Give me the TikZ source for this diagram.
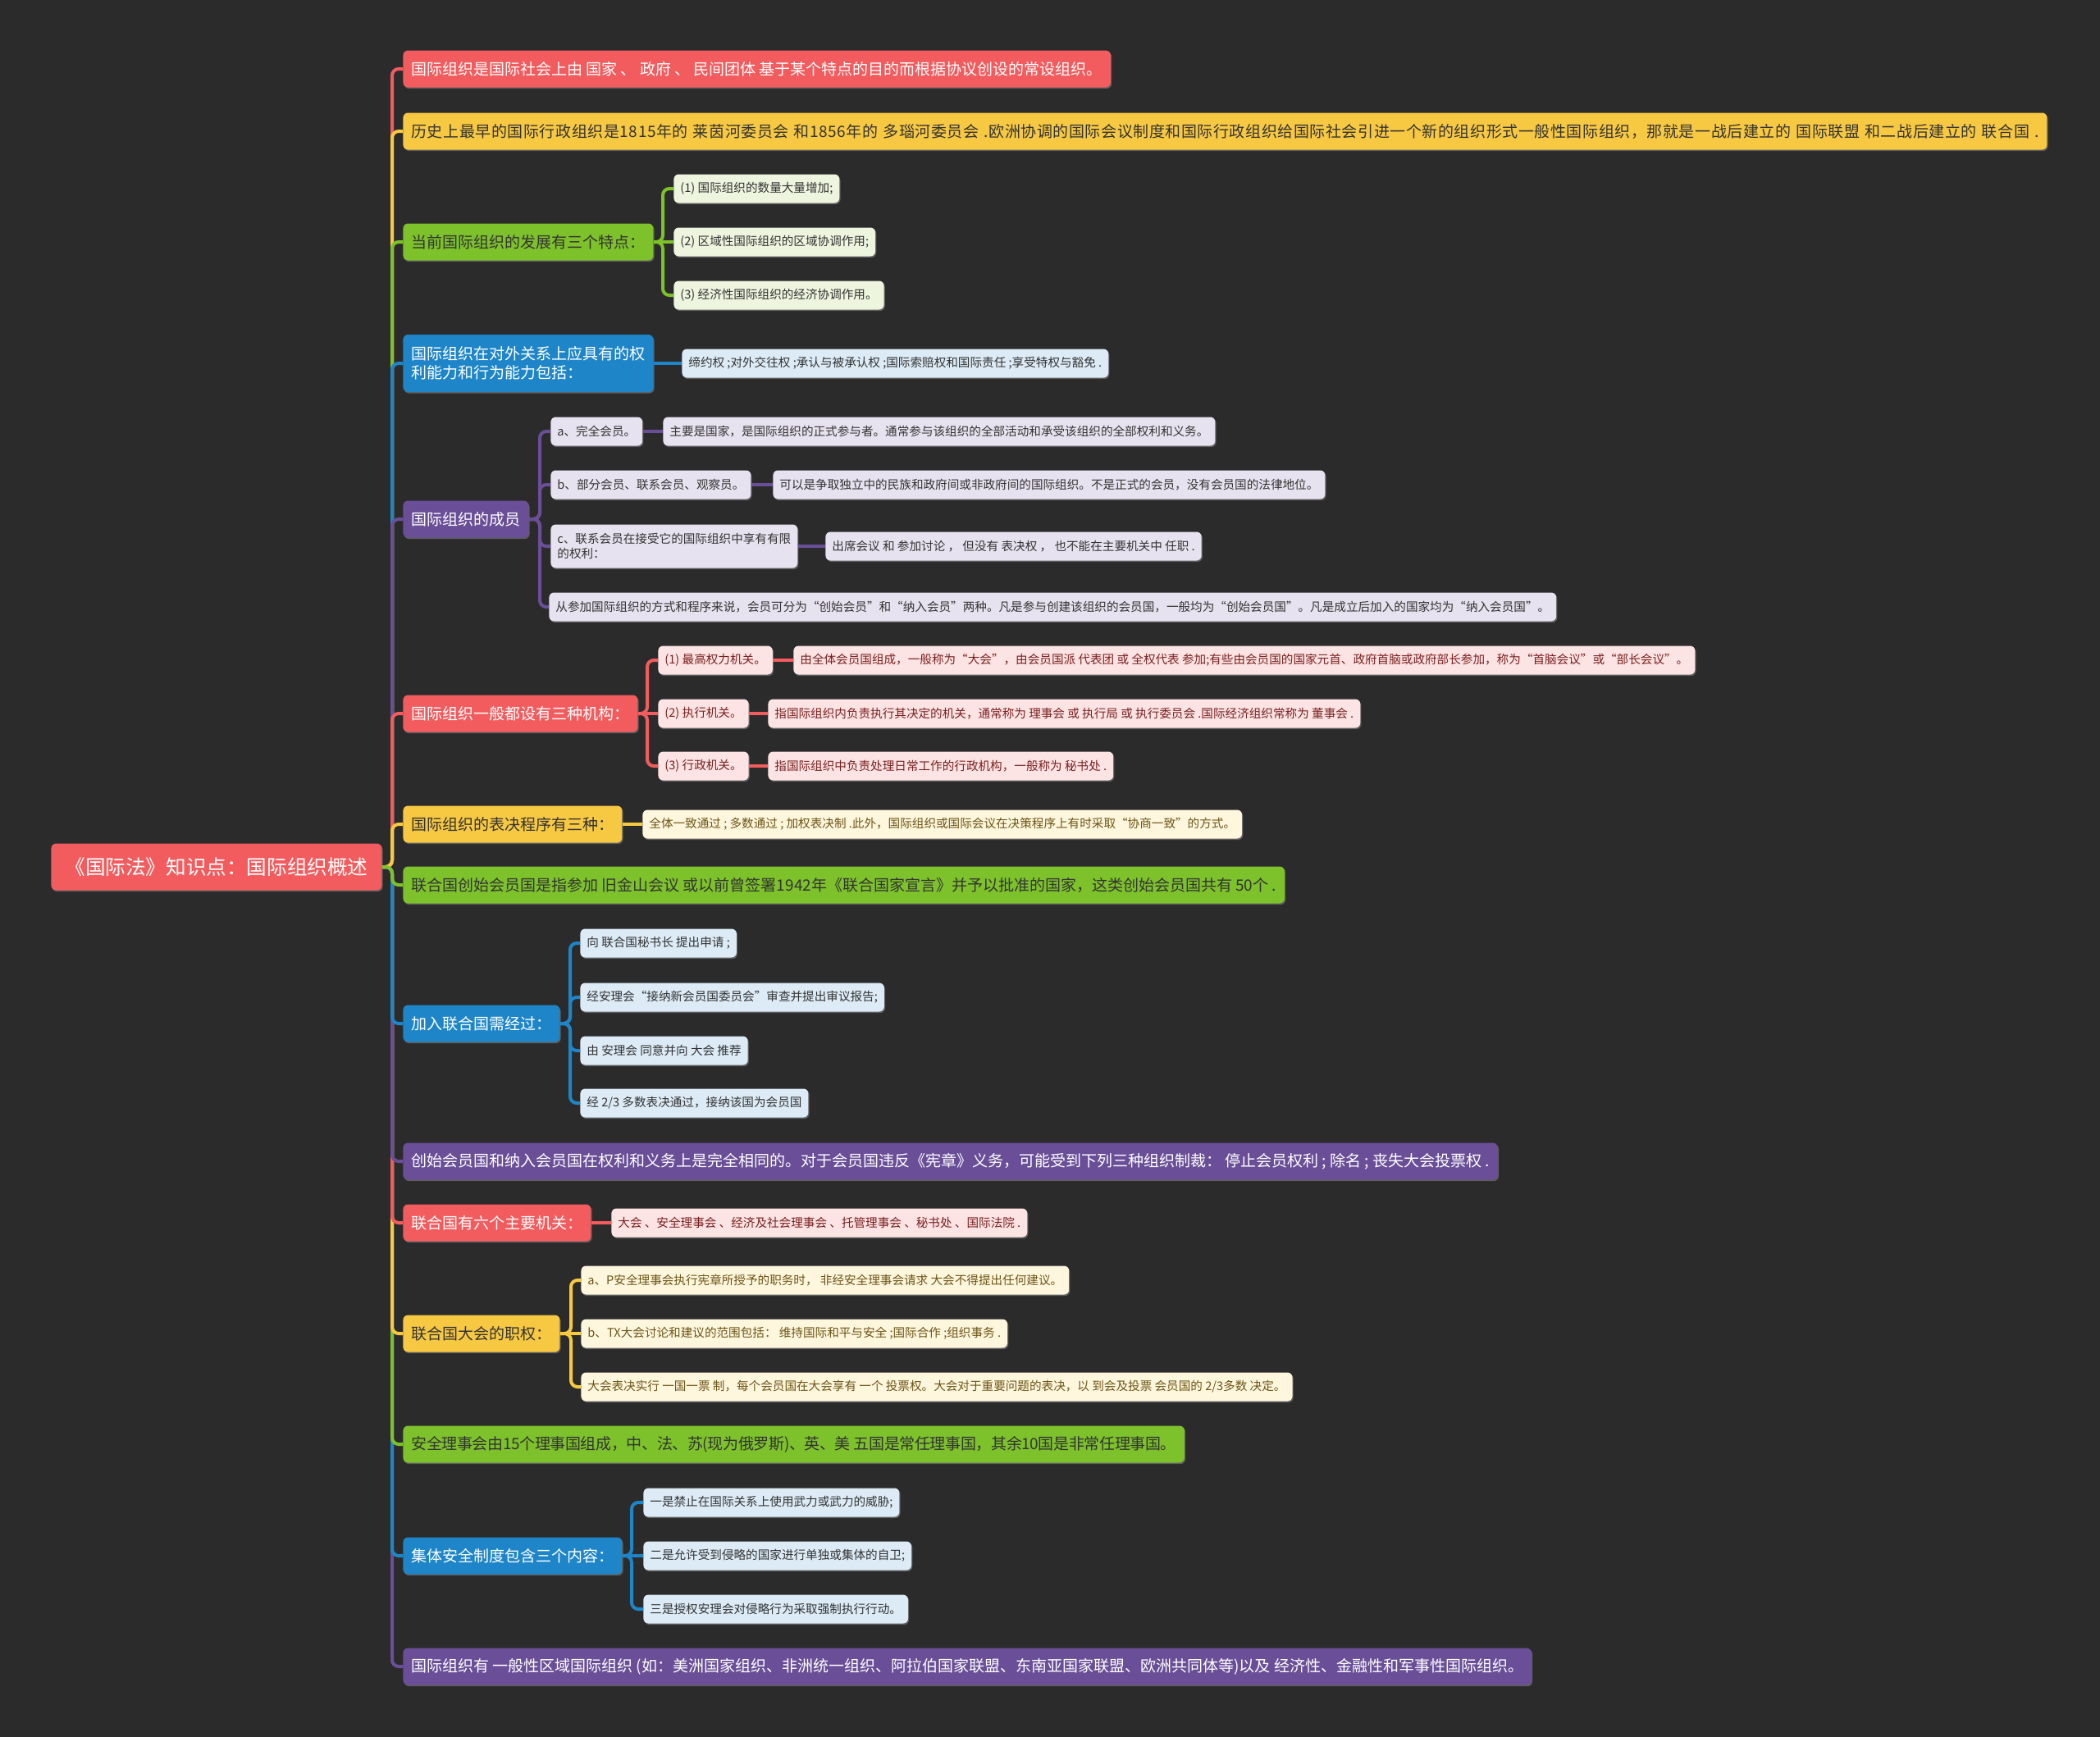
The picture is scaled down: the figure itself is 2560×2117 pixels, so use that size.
\documentclass[tikz,border=0pt]{standalone}
\usepackage{fontspec}
\newfontfamily\cjk{Noto Sans CJK SC}
\usetikzlibrary{shadows}
\definecolor{bg}{HTML}{2B2B2B}
\definecolor{cred}{HTML}{F25C5E}
\definecolor{cyel}{HTML}{F7C841}
\definecolor{cgrn}{HTML}{7DC12B}
\definecolor{cblu}{HTML}{1E86C8}
\definecolor{cpur}{HTML}{6A4F98}
\definecolor{fred}{HTML}{FDE4E4}
\definecolor{fyel}{HTML}{FFF6DE}
\definecolor{fgrn}{HTML}{EDF5DF}
\definecolor{fblu}{HTML}{DCEBF6}
\definecolor{fpur}{HTML}{E7E2EF}
\definecolor{tdark}{HTML}{333333}
\definecolor{tred}{HTML}{7A1F1F}
\definecolor{tyel}{HTML}{6B5514}
\tikzset{
  base/.style={rectangle, rounded corners=3pt, anchor=west,
    drop shadow={shadow xshift=0.6pt, shadow yshift=-0.8pt, opacity=0.6}},
  rootbox/.style={base, fill=cred, text=white, minimum height=28.5pt,
    inner xsep=8pt, font=\cjk\fontsize{12.3pt}{15pt}\selectfont},
  Lone/.style={base, minimum height=22.5pt, inner xsep=5pt, inner ysep=2pt,
    font=\cjk\fontsize{9.5pt}{11.5pt}\selectfont, align=left},
  Ltwo/.style={base, minimum height=17.5pt, inner xsep=4pt, inner ysep=2pt,
    font=\cjk\fontsize{7.3pt}{9.1pt}\selectfont, align=left},
  redA/.style={Lone, fill=cred, text=white},
  yelA/.style={Lone, fill=cyel, text=tdark},
  grnA/.style={Lone, fill=cgrn, text=tdark},
  bluA/.style={Lone, fill=cblu, text=white},
  purA/.style={Lone, fill=cpur, text=white},
  redB/.style={Ltwo, fill=fred, text=tred},
  yelB/.style={Ltwo, fill=fyel, text=tyel},
  grnB/.style={Ltwo, fill=fgrn, text=tdark},
  bluB/.style={Ltwo, fill=fblu, text=tdark},
  purB/.style={Ltwo, fill=fpur, text=tdark},
  link/.style={line width=2pt, rounded corners=4pt},
}
\newcommand\brLink[4]{\draw[link,draw=#1] (#2.east) -- (#3,0 |- #2.east) |- (#4.west);}
\newcommand\stLink[3]{\draw[link,draw=#1] (#2.east) -- (#3.west);}
\begin{document}
\begin{tikzpicture}[x=0.5pt,y=-0.5pt]
\useasboundingbox (0,0) rectangle (2560,2117);
\fill[bg] (-20,-20) rectangle (2580,2137);

% root
\node[rootbox, minimum width=201.5pt] (root) at (62,1057) {《国际法》知识点：国际组织概述};

% level 1
\node[redA] (n1) at (491,84) {国际组织是国际社会上由 国家 、 政府 、 民间团体 基于某个特点的目的而根据协议创设的常设组织。};
\node[yelA] (n2) at (491,160) {\makebox[992pt][s]{\addfontfeature{LetterSpace=3}历史上最早的国际行政组织是1815年的 莱茵河委员会 和1856年的 多瑙河委员会 .欧洲协调的国际会议制度和国际行政组织给国际社会引进一个新的组织形式一般性国际组织，那就是一战后建立的 国际联盟 和二战后建立的 联合国 .}};
\node[grnA] (n3) at (491,295) {当前国际组织的发展有三个特点：};
\node[bluA, minimum height=35pt] (n4) at (491,443) {国际组织在对外关系上应具有的权\\利能力和行为能力包括：};
\node[purA] (n5) at (491,633) {国际组织的成员};
\node[redA] (n6) at (491,870) {国际组织一般都设有三种机构：};
\node[yelA] (n7) at (491,1005) {国际组织的表决程序有三种：};
\node[grnA] (n8) at (491,1079) {联合国创始会员国是指参加 旧金山会议 或以前曾签署1942年《联合国家宣言》并予以批准的国家，这类创始会员国共有 50个 .};
\node[bluA] (n9) at (491,1248) {加入联合国需经过：};
\node[purA] (n10) at (491,1416) {创始会员国和纳入会员国在权利和义务上是完全相同的。对于会员国违反《宪章》义务，可能受到下列三种组织制裁： 停止会员权利 ; 除名 ; 丧失大会投票权 .};
\node[redA] (n11) at (491,1491) {联合国有六个主要机关：};
\node[yelA] (n12) at (491,1626) {联合国大会的职权：};
\node[grnA] (n13) at (491,1761) {\addfontfeature{LetterSpace=-2}安全理事会由15个理事国组成，中、法、苏(现为俄罗斯)、英、美 五国是常任理事国，其余10国是非常任理事国。};
\node[bluA] (n14) at (491,1897) {集体安全制度包含三个内容：};
\node[purA] (n15) at (491,2032) {国际组织有 一般性区域国际组织 (如：美洲国家组织、非洲统一组织、阿拉伯国家联盟、东南亚国家联盟、欧洲共同体等)以及 经济性、金融性和军事性国际组织。};

% children of n3
\node[grnB] (n3a) at (821,230) {(1) 国际组织的数量大量增加;};
\node[grnB] (n3b) at (821,295) {(2) 区域性国际组织的区域协调作用;};
\node[grnB] (n3c) at (821,360) {(3) 经济性国际组织的经济协调作用。};

% child of n4
\node[bluB] (n4a) at (831,443) {缔约权 ;对外交往权 ;承认与被承认权 ;国际索赔权和国际责任 ;享受特权与豁免 .};

% children of n5
\node[purB] (n5a) at (671,526) {a、完全会员。};
\node[purB] (n5b) at (671,591) {b、部分会员、联系会员、观察员。};
\node[purB, minimum height=26.5pt] (n5c) at (671,666) {c、联系会员在接受它的国际组织中享有有限\\的权利：};
\node[purB] (n5d) at (669,740) {从参加国际组织的方式和程序来说，会员可分为“创始会员”和“纳入会员”两种。凡是参与创建该组织的会员国，一般均为“创始会员国”。凡是成立后加入的国家均为“纳入会员国”。};
\node[purB] (n5a1) at (808,526) {主要是国家，是国际组织的正式参与者。通常参与该组织的全部活动和承受该组织的全部权利和义务。};
\node[purB] (n5b1) at (942,591) {可以是争取独立中的民族和政府间或非政府间的国际组织。不是正式的会员，没有会员国的法律地位。};
\node[purB] (n5c1) at (1006,666) {出席会议 和 参加讨论 ， 但没有 表决权 ， 也不能在主要机关中 任职 .};

% children of n6
\node[redB] (n6a) at (802,805) {(1) 最高权力机关。};
\node[redB] (n6b) at (802,870) {(2) 执行机关。};
\node[redB] (n6c) at (802,934) {(3) 行政机关。};
\node[redB] (n6a1) at (967,805) {由全体会员国组成，一般称为“大会”，由会员国派 代表团 或 全权代表 参加;有些由会员国的国家元首、政府首脑或政府部长参加，称为“首脑会议”或“部长会议”。};
\node[redB] (n6b1) at (936,870) {指国际组织内负责执行其决定的机关，通常称为 理事会 或 执行局 或 执行委员会 .国际经济组织常称为 董事会 .};
\node[redB] (n6c1) at (936,934) {指国际组织中负责处理日常工作的行政机构，一般称为 秘书处 .};

% child of n7
\node[yelB] (n7a) at (783,1005) {全体一致通过 ; 多数通过 ; 加权表决制 .此外，国际组织或国际会议在决策程序上有时采取“协商一致”的方式。};

% children of n9
\node[bluB] (n9a) at (707,1150) {向 联合国秘书长 提出申请 ;};
\node[bluB] (n9b) at (707,1216) {经安理会“接纳新会员国委员会”审查并提出审议报告;};
\node[bluB] (n9c) at (707,1281) {由 安理会 同意并向 大会 推荐};
\node[bluB] (n9d) at (707,1345) {经 2/3 多数表决通过，接纳该国为会员国};

% child of n11
\node[redB] (n11a) at (745,1491) {大会 、安全理事会 、经济及社会理事会 、托管理事会 、秘书处 、国际法院 .};

% children of n12
\node[yelB] (n12a) at (708,1561) {a、P安全理事会执行宪章所授予的职务时， 非经安全理事会请求 大会不得提出任何建议。};
\node[yelB] (n12b) at (708,1626) {b、TX大会讨论和建议的范围包括： 维持国际和平与安全 ;国际合作 ;组织事务 .};
\node[yelB] (n12c) at (708,1691) {大会表决实行 一国一票 制，每个会员国在大会享有 一个 投票权。大会对于重要问题的表决，以 到会及投票 会员国的 2/3多数 决定。};

% children of n14
\node[bluB] (n14a) at (784,1832) {一是禁止在国际关系上使用武力或武力的威胁;};
\node[bluB] (n14b) at (784,1897) {二是允许受到侵略的国家进行单独或集体的自卫;};
\node[bluB] (n14c) at (784,1962) {三是授权安理会对侵略行为采取强制执行行动。};

% root branches (farthest first)
\brLink{cpur}{root}{478}{n15}
\brLink{cred}{root}{478}{n1}
\brLink{cyel}{root}{478}{n2}
\brLink{cblu}{root}{478}{n14}
\brLink{cgrn}{root}{478}{n3}
\brLink{cgrn}{root}{478}{n13}
\brLink{cblu}{root}{478}{n4}
\brLink{cyel}{root}{478}{n12}
\brLink{cred}{root}{478}{n11}
\brLink{cpur}{root}{478}{n5}
\brLink{cpur}{root}{478}{n10}
\brLink{cblu}{root}{478}{n9}
\brLink{cred}{root}{478}{n6}
\brLink{cyel}{root}{478}{n7}
\brLink{cgrn}{root}{478}{n8}

% level-2 branches
\brLink{cgrn}{n3}{808}{n3a}
\stLink{cgrn}{n3}{n3b}
\brLink{cgrn}{n3}{808}{n3c}
\stLink{cblu}{n4}{n4a}
\brLink{cpur}{n5}{658}{n5a}
\brLink{cpur}{n5}{658}{n5b}
\brLink{cpur}{n5}{658}{n5c}
\brLink{cpur}{n5}{658}{n5d}
\stLink{cpur}{n5a}{n5a1}
\stLink{cpur}{n5b}{n5b1}
\stLink{cpur}{n5c}{n5c1}
\brLink{cred}{n6}{789}{n6a}
\stLink{cred}{n6}{n6b}
\brLink{cred}{n6}{789}{n6c}
\stLink{cred}{n6a}{n6a1}
\stLink{cred}{n6b}{n6b1}
\stLink{cred}{n6c}{n6c1}
\stLink{cyel}{n7}{n7a}
\brLink{cblu}{n9}{695}{n9a}
\brLink{cblu}{n9}{695}{n9b}
\brLink{cblu}{n9}{695}{n9c}
\brLink{cblu}{n9}{695}{n9d}
\stLink{cred}{n11}{n11a}
\brLink{cyel}{n12}{696}{n12a}
\stLink{cyel}{n12}{n12b}
\brLink{cyel}{n12}{696}{n12c}
\brLink{cblu}{n14}{770}{n14a}
\stLink{cblu}{n14}{n14b}
\brLink{cblu}{n14}{770}{n14c}
\end{tikzpicture}
\end{document}
